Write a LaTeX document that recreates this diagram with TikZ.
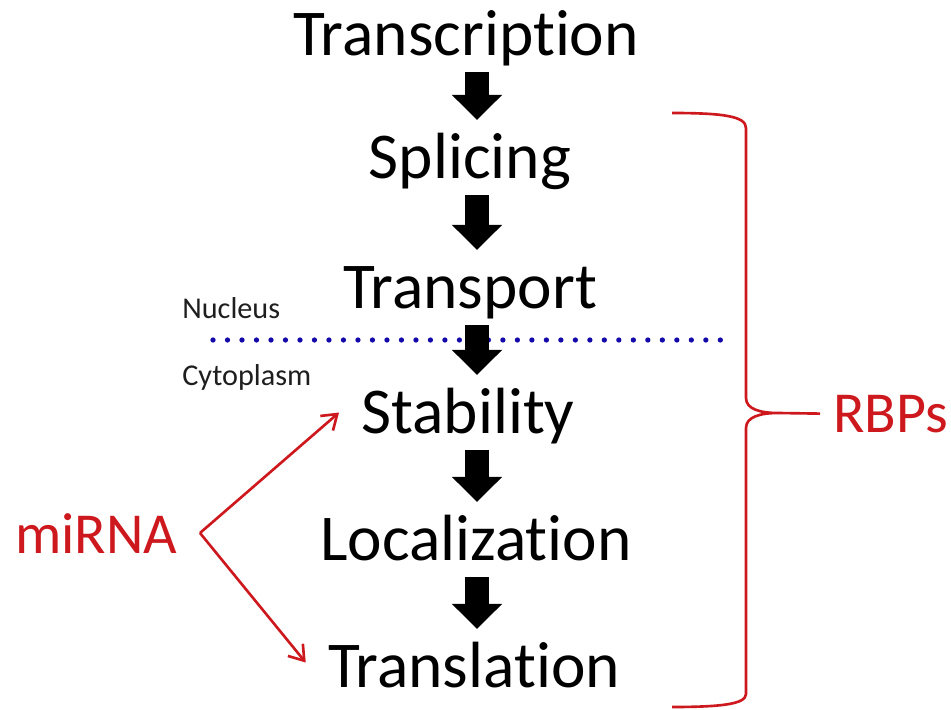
\documentclass[tikz,border=0pt]{standalone}
\usepackage{fontspec}
\setmainfont{Carlito}[Ligatures=NoCommon]
\usetikzlibrary{arrows.meta}
\definecolor{mirred}{RGB}{205,25,30}
\definecolor{dotblue}{RGB}{20,10,170}
\definecolor{labelgray}{RGB}{30,30,30}

\tikzset{
  stepnode/.style={font=\fontsize{37.2}{44}\selectfont, inner sep=0pt, text height=32.9pt, text depth=9.6pt, anchor=base},
  blockarrow/.style={line width=13.6pt, -{Triangle[width=27.8pt,length=14.2pt]}},
  regionlabel/.style={font=\fontsize{17.2}{20}\selectfont, color=labelgray, inner sep=0pt, anchor=base west},
  redlabel/.style={font=\fontsize{33}{40}\selectfont, color=mirred, inner sep=0pt},
  redarrow/.style={mirred, line width=1.5pt, -{Straight Barb[length=8pt,width=11pt]}}
}

\begin{document}
\begin{tikzpicture}[x=0.02cm, y=-0.02cm]
  \useasboundingbox (0,0) rectangle (951,710);
  % steps
  \node[stepnode] (transcription) at (466,55) {Transcription};
  \node[stepnode] (splicing) at (470,178) {Splicing};
  \node[stepnode] (transport) at (470,308) {Transport};
  \node[stepnode] (stability) at (468,433) {Stability};
  \node[stepnode] (localization) at (476,560) {Localization};
  \node[stepnode] (translation) at (474,687) {Translation};
  \coordinate (arrowx) at (477,0);
  % nucleus / cytoplasm boundary
  \draw[dotblue, line width=3pt, line cap=round, dash pattern=on 0pt off 8.25pt] (213,340) -- (725,340);
  \node[regionlabel] (nucleus) at (182,318) {Nucleus};
  \node[regionlabel] (cytoplasm) at (182,385) {Cytoplasm};
  \draw[blockarrow] (transcription.south -| arrowx) -- (splicing.north -| arrowx);
  \draw[blockarrow] (splicing.south -| arrowx) -- (transport.north -| arrowx);
  \draw[blockarrow] (transport.south -| arrowx) -- (stability.north -| arrowx);
  \draw[blockarrow] (stability.south -| arrowx) -- (localization.north -| arrowx);
  \draw[blockarrow] (localization.south -| arrowx) -- (translation.north -| arrowx);
  % miRNA
  \node[redlabel, anchor=base west] (mirna) at (15,553) {miRNA};
  \coordinate (fork) at (200,533);
  \draw[redarrow] (fork) -- ([xshift=-0.44cm]stability.west);
  \draw[redarrow] (fork) -- ([xshift=-0.44cm, yshift=0.08cm]translation.west);
  % RBPs brace
  \node[redlabel, anchor=base west] (rbps) at (833,432) {RBPs};
  \coordinate (cusp) at (778,413);
  \draw[mirred, line width=1.5pt] (672,113) .. controls (722,113) and (746,116) .. (746,128) -- (746,398)
    .. controls (746,409) and (760,413) .. (cusp)
    .. controls (760,413) and (746,417) .. (746,428) -- (746,694)
    .. controls (746,704) and (722,707) .. (672,707);
  \draw[mirred, line width=1.5pt] (cusp) -- ([xshift=-0.26cm]rbps.west);
\end{tikzpicture}
\end{document}
